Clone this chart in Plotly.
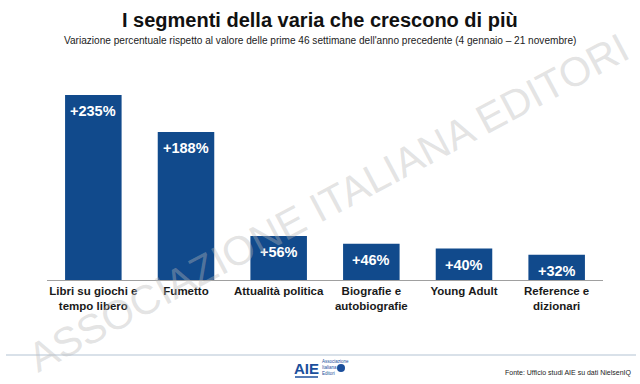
import plotly.graph_objects as go

categories = ["Libri su giochi e<br>tempo libero", "Fumetto", "Attualità politica",
              "Biografie e<br>autobiografie", "Young Adult", "Reference e<br>dizionari"]
values = [235, 188, 56, 46, 40, 32]
labels = ["+235%", "+188%", "+56%", "+46%", "+40%", "+32%"]

W, H = 640, 384
ML, MR, MT, MB = 47, 37, 85, 104
PW, PH = W - ML - MR, H - MT - MB

def px(x):
    return (x - ML) / PW

def py(y):
    return (H - MB - y) / PH

BAR = "#114a8c"
FONT = "Liberation Sans, Arial, sans-serif"

fig = go.Figure(go.Bar(
    x=categories, y=values,
    marker=dict(color=BAR, line=dict(width=0)),
    width=0.61, hoverinfo="x+y",
))

# value labels, placed at each bar's top from the data
for c, v, t in zip(categories, values, labels):
    fig.add_annotation(x=c, y=v, text=f"<b>{t}</b>", showarrow=False,
                       yanchor="middle", yshift=-16,
                       font=dict(color="white", size=14.5, family=FONT))

fig.update_layout(
    width=W, height=H, margin=dict(l=ML, r=MR, t=MT, b=MB),
    paper_bgcolor="white", plot_bgcolor="white", showlegend=False,
    font=dict(family=FONT, color="#1a1a1a"),
    xaxis=dict(showline=True, linecolor="#a0a0a0", linewidth=1, ticks="",
               showgrid=False, zeroline=False, fixedrange=True,
               tickfont=dict(size=11.5, color="#1a1a1a", family=FONT, weight="bold")),
    yaxis=dict(visible=False, range=[0, 235 * PH / 185], showgrid=False, zeroline=False,
               fixedrange=True),
)

# Watermark
fig.add_annotation(xref="paper", yref="paper", x=px(328), y=py(203),
                   text="ASSOCIAZIONE ITALIANA EDITORI", showarrow=False,
                   textangle=-28, font=dict(size=41, color="rgba(185,185,185,0.4)", family=FONT))

# Title & subtitle
fig.add_annotation(xref="paper", yref="paper", x=px(320), y=py(20), yanchor="middle",
                   text="<b>I segmenti della varia che crescono di più</b>", showarrow=False,
                   font=dict(size=20, color="#111", family=FONT))
fig.add_annotation(xref="paper", yref="paper", x=px(320), y=py(41), yanchor="middle",
                   text="Variazione percentuale rispetto al valore delle prime 46 settimane dell'anno precedente (4 gennaio – 21 novembre)",
                   showarrow=False, font=dict(size=10.1, color="#222", family=FONT))

# Footer line
fig.add_shape(type="line", xref="paper", yref="paper", x0=px(6), x1=px(636),
              y0=py(355), y1=py(355), line=dict(color="#b3c3d3", width=1.2))

# Logo
fig.add_annotation(xref="paper", yref="paper", x=px(306), y=py(368), yanchor="middle",
                   text="<b>AIE</b>", showarrow=False,
                   font=dict(size=15, color="#1b4f9c", family=FONT))
fig.add_shape(type="line", xref="paper", yref="paper", x0=px(295), x1=px(318),
              y0=py(377), y1=py(377), line=dict(color="#1b4f9c", width=1.5))
fig.add_annotation(xref="paper", yref="paper", x=px(320), y=py(367), xanchor="left", yanchor="middle",
                   text="Associazione<br>Italiana<br>Editori", showarrow=False, align="left",
                   font=dict(size=4.5, color="#1b4f9c", family=FONT))
fig.add_shape(type="circle", xref="paper", yref="paper", x0=px(337), x1=px(345),
              y0=py(364), y1=py(372), fillcolor="#1b4f9c", line=dict(width=0))

# Source
fig.add_annotation(xref="paper", yref="paper", x=px(633), y=py(373), xanchor="right", yanchor="middle",
                   text="Fonte: Ufficio studi AIE su dati NielsenIQ", showarrow=False,
                   font=dict(size=7, color="#222", family=FONT))

fig.write_html("out.html", config={"displayModeBar": False},
               post_script="document.body.style.margin='0';")
